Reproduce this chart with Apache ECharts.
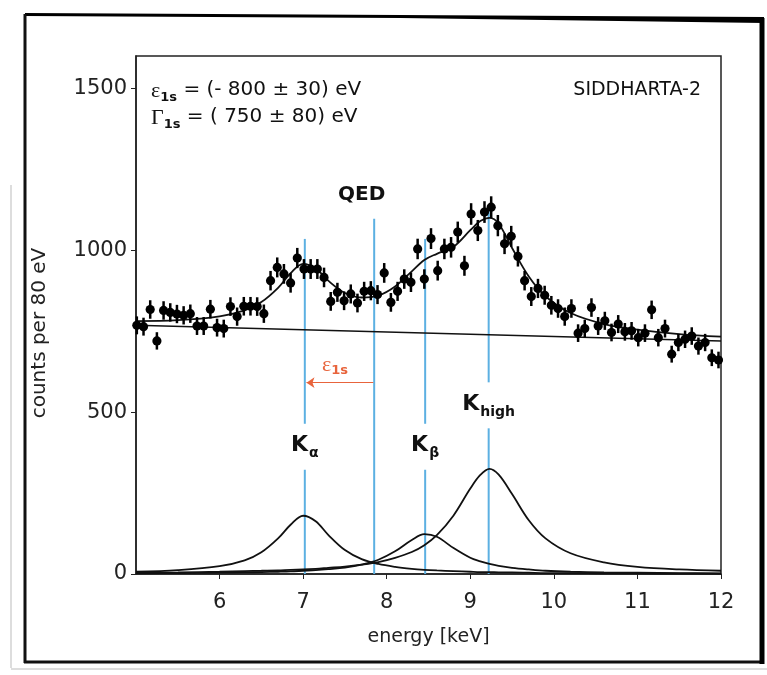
<!DOCTYPE html>
<html>
<head>
<meta charset="utf-8">
<script src="https://cdn.jsdelivr.net/npm/echarts@6/dist/echarts.min.js"></script>
<style>
html, body { margin: 0; padding: 0; background: #fff; }
#chart { width: 767px; height: 675px; }
</style>
</head>
<body>
<div id="chart"></div>
<script>
// measured spectrum, 80 eV bins
const energies = [
    5.01, 5.09, 5.17, 5.25, 5.33, 5.41, 5.49, 5.57, 5.65, 5.73,
    5.81, 5.89, 5.97, 6.05, 6.13, 6.21, 6.29, 6.37, 6.45, 6.53,
    6.61, 6.69, 6.77, 6.85, 6.93, 7.01, 7.09, 7.17, 7.25, 7.33,
    7.41, 7.49, 7.57, 7.65, 7.73, 7.81, 7.89, 7.97, 8.05, 8.13,
    8.21, 8.29, 8.37, 8.45, 8.53, 8.61, 8.69, 8.77, 8.85, 8.93,
    9.01, 9.09, 9.17, 9.25, 9.33, 9.41, 9.49, 9.57, 9.65, 9.73,
    9.81, 9.89, 9.97, 10.05, 10.13, 10.21, 10.29, 10.37, 10.45, 10.53,
    10.61, 10.69, 10.77, 10.85, 10.93, 11.01, 11.09, 11.17, 11.25, 11.33,
    11.41, 11.49, 11.57, 11.65, 11.73, 11.81, 11.89, 11.97
];
const counts = [
    768, 764, 817, 720, 814, 808, 803, 799, 804, 766,
    766, 818, 761, 758, 826, 795, 827, 827, 826, 804,
    906, 947, 927, 899, 976, 942, 942, 942, 916, 842,
    870, 844, 865, 837, 873, 875, 863, 930, 839, 873,
    911, 901, 1004, 911, 1036, 937, 1004, 1009, 1056, 952,
    1112, 1061, 1118, 1133, 1076, 1020, 1043, 981, 906, 857,
    882, 861, 830, 820, 795, 820, 744, 758, 823, 766,
    782, 746, 772, 748, 751, 730, 744, 816, 730, 758,
    679, 715, 725, 735, 704, 715, 668, 661
];

// fitted curves
const curveX = [5.0, 5.5, 6.0, 6.3, 6.5, 6.7, 6.85, 7.0, 7.15, 7.3, 7.5, 7.7, 7.9, 8.1, 8.3,
    8.45, 8.6, 8.8, 9.0, 9.12, 9.23, 9.34, 9.5, 9.7, 9.9, 10.2, 10.6, 11.0, 11.5, 12.0];
const fitTotal = [781, 784, 796, 814, 840, 884, 929, 958, 944, 906, 868, 854, 860, 888, 935,
    970, 989, 1011, 1062, 1090, 1100, 1082, 1007, 919, 858, 806, 772, 755, 741, 733];
const kAlpha = [7, 12, 24, 42, 67, 110, 152, 180, 163, 121, 74, 46, 31, 22, 16,
    13, 11, 9, 7, 6, 6, 5, 5, 4, 3, 3, 2, 2, 1, 1];
const kBeta = [2, 3, 4, 5, 6, 7, 8, 10, 12, 15, 20, 29, 44, 70, 105,
    123, 115, 80, 50, 39, 31, 25, 19, 14, 10, 7, 5, 4, 3, 2];
const kHigh = [4, 5, 7, 9, 10, 11, 13, 14, 16, 19, 23, 29, 37, 50, 68,
    89, 120, 181, 264, 306, 325, 307, 247, 166, 110, 64, 36, 22, 14, 10];
const backgroundX = [5, 12];
const backgroundY = [768, 720];

// transition energies (keV) and the top of their marker lines
const lineNames = ['Kα', 'Kβ', 'Khigh', 'QED'];
const lineEnergies = [7.02, 8.46, 9.22, 7.85];
const lineTops = [1035, 1035, 1123, 1097];
const xTicks = [6, 7, 8, 9, 10, 11, 12];
const yTicks = [0, 500, 1000, 1500];

const FONT = 'DejaVu Sans';
const BLUE = '#5cb0e2';
const RED = '#e8643c';

let dom = document.getElementById('chart');
let myChart = echarts.init(dom, null, {renderer: 'canvas'});

// label spots for the peak names, gaps in the blue lines go round them
const labelSpots = {
    'Kα': [7.02, 394],
    'Kβ': [8.46, 394],
    'Khigh': [9.22, 522]
};

let segments = [];
lineNames.forEach((n, i) => {
    let x = lineEnergies[i];
    let spot = labelSpots[n];
    if (spot) {
        segments.push([x, 0, spot[1] - 72]);
        segments.push([x, spot[1] + 70, lineTops[i]]);
    } else {
        segments.push([x, 0, lineTops[i]]);
    }
});

const pairs = (xs, ys) => xs.map((x, i) => [x, ys[i]]);

const subRich = (size) => ({
    k: {fontFamily: FONT, fontSize: size, fontWeight: 'bold', color: '#111', lineHeight: 24, verticalAlign: 'top'},
    s: {fontFamily: FONT, fontSize: 14, fontWeight: 'bold', color: '#111', lineHeight: 14, padding: [12, 0, 0, 1], verticalAlign: 'top'}
});

const headRich = {
    g: {fontFamily: 'Liberation Serif', fontSize: 22, fill: '#111', lineHeight: 22, verticalAlign: 'top'},
    s: {fontFamily: FONT, fontSize: 13, fontWeight: 'bold', fill: '#111', lineHeight: 13, padding: [11, 0, 0, 0], verticalAlign: 'top'},
    t: {fontFamily: FONT, fontSize: 20, fill: '#111', lineHeight: 22, verticalAlign: 'top'}
};

let option = {
    animation: false,
    backgroundColor: '#fff',
    grid: {
        left: 136, right: 46, top: 56, bottom: 101,
        show: true, borderColor: '#222', borderWidth: 1.5
    },
    xAxis: {
        type: 'value', min: 5, max: 12, interval: 1,
        name: 'energy [keV]', nameLocation: 'middle', nameGap: 54,
        nameTextStyle: {fontFamily: FONT, fontSize: 19, color: '#222'},
        axisLine: {lineStyle: {color: '#222', width: 1.5}},
        axisTick: {length: 5, customValues: xTicks, lineStyle: {color: '#222'}},
        axisLabel: {customValues: xTicks, margin: 18, fontFamily: FONT, fontSize: 21, color: '#222'},
        splitLine: {show: false}
    },
    yAxis: {
        type: 'value', min: 0, max: 1600,
        axisLine: {show: true, lineStyle: {color: '#222', width: 1.5}},
        axisTick: {show: true, length: 5, customValues: yTicks, lineStyle: {color: '#222'}},
        axisLabel: {
            customValues: yTicks, margin: 9, fontFamily: FONT, fontSize: 21, color: '#222',
            formatter: (v) => String(v)
        },
        splitLine: {show: false}
    },
    graphic: [
        {
            type: 'polygon', silent: true,
            shape: {points: [[25, 13], [400, 15], [764, 17], [764, 23], [400, 18], [25, 16]]},
            style: {fill: '#000'}
        },
        {type: 'line', silent: true, shape: {x1: 25, y1: 14, x2: 25, y2: 663}, style: {stroke: '#111', lineWidth: 3}},
        {type: 'line', silent: true, shape: {x1: 24, y1: 662, x2: 764, y2: 662}, style: {stroke: '#111', lineWidth: 3}},
        {type: 'line', silent: true, shape: {x1: 762, y1: 18, x2: 762, y2: 664}, style: {stroke: '#000', lineWidth: 5}},
        {type: 'line', silent: true, shape: {x1: 11, y1: 185, x2: 11, y2: 668}, style: {stroke: '#ddd', lineWidth: 2}},
        {type: 'line', silent: true, shape: {x1: 11, y1: 669, x2: 767, y2: 669}, style: {stroke: '#ddd', lineWidth: 2}},
        {
            type: 'text', silent: true, x: 40, y: 333, rotation: Math.PI / 2,
            style: {text: 'counts per 80 eV', font: '20px "DejaVu Sans"', fill: '#222', align: 'center', verticalAlign: 'middle'}
        },
        {
            type: 'text', silent: true, left: 151, top: 80,
            style: {text: '{g|ε}{s|1s}{t| = (- 800 ± 30) eV}', rich: headRich}
        },
        {
            type: 'text', silent: true, left: 151, top: 107,
            style: {text: '{g|Γ}{s|1s}{t| = ( 750 ± 80) eV}', rich: headRich}
        },
        {
            type: 'text', silent: true, right: 66, top: 81,
            style: {text: 'SIDDHARTA-2', font: '19px "DejaVu Sans"', fill: '#111'}
        }
    ],
    series: [
        {
            // blue transition lines
            type: 'custom', silent: true, z: 1,
            data: segments,
            renderItem: (params, api) => {
                let a = api.coord([api.value(0), api.value(1)]);
                let b = api.coord([api.value(0), api.value(2)]);
                return {
                    type: 'line',
                    shape: {x1: a[0], y1: a[1], x2: b[0], y2: b[1]},
                    style: {stroke: BLUE, lineWidth: 2}
                };
            }
        },
        {
            type: 'line', name: 'background', silent: true, z: 2,
            data: pairs(backgroundX, backgroundY), symbol: 'none',
            lineStyle: {color: '#111', width: 1.5}
        },
        {
            type: 'line', name: 'fit', silent: true, z: 3,
            data: pairs(curveX, fitTotal), symbol: 'none', smooth: 0.35,
            lineStyle: {color: '#111', width: 1.8}
        },
        {
            type: 'line', name: 'Kalpha', silent: true, z: 3,
            data: pairs(curveX, kAlpha), symbol: 'none', smooth: 0.35,
            lineStyle: {color: '#111', width: 1.8}
        },
        {
            type: 'line', name: 'Kbeta', silent: true, z: 3,
            data: pairs(curveX, kBeta), symbol: 'none', smooth: 0.35,
            lineStyle: {color: '#111', width: 1.8}
        },
        {
            type: 'line', name: 'Khigh', silent: true, z: 3,
            data: pairs(curveX, kHigh), symbol: 'none', smooth: 0.35,
            lineStyle: {color: '#111', width: 1.8}
        },
        {
            // data points with sqrt(N) error bars
            type: 'custom', silent: true, z: 4,
            data: pairs(energies, counts),
            renderItem: (params, api) => {
                let x = api.value(0), y = api.value(1);
                let err = Math.sqrt(y);
                let p = api.coord([x, y]);
                let hi = api.coord([x, y + err]);
                let lo = api.coord([x, y - err]);
                return {
                    type: 'group',
                    children: [
                        {type: 'line', shape: {x1: p[0], y1: hi[1], x2: p[0], y2: lo[1]}, style: {stroke: '#000', lineWidth: 2.5}},
                        {type: 'circle', shape: {cx: p[0], cy: p[1], r: 4.6}, style: {fill: '#000'}}
                    ]
                };
            }
        },
        {
            // epsilon shift arrow
            type: 'lines', coordinateSystem: 'cartesian2d', silent: true, z: 5,
            symbol: ['none', 'arrow'], symbolSize: 8,
            lineStyle: {color: RED, width: 1.2, opacity: 1},
            data: [{coords: [[lineEnergies[3] - 0.01, 591], [lineEnergies[0] + 0.02, 591]]}]
        },
        {
            // text annotations in data space
            type: 'scatter', silent: true, z: 6, symbolSize: 0,
            itemStyle: {opacity: 1},
            data: [
                {value: [labelSpots['Kα'][0], labelSpots['Kα'][1]], label: {formatter: '{k|K}{s|α}', rich: subRich(22)}},
                {value: [labelSpots['Kβ'][0], labelSpots['Kβ'][1]], label: {formatter: '{k|K}{s|β}', rich: subRich(22)}},
                {value: [labelSpots['Khigh'][0], labelSpots['Khigh'][1]], label: {formatter: '{k|K}{s|high}', rich: subRich(22)}},
                {value: [7.70, 1171], label: {formatter: 'QED', fontFamily: FONT, fontSize: 20, fontWeight: 'bold', color: '#111'}},
                {
                    value: [7.38, 645],
                    label: {
                        formatter: '{g|ε}{s|1s}',
                        rich: {
                            g: {fontFamily: 'Liberation Serif', fontSize: 22, color: RED, lineHeight: 22, verticalAlign: 'top'},
                            s: {fontFamily: FONT, fontSize: 13, fontWeight: 'bold', color: RED, lineHeight: 13, padding: [10, 0, 0, 0], verticalAlign: 'top'}
                        }
                    }
                }
            ],
            label: {show: true, position: 'inside', opacity: 1}
        }
    ]
};

myChart.setOption(option);
</script>
</body>
</html>
